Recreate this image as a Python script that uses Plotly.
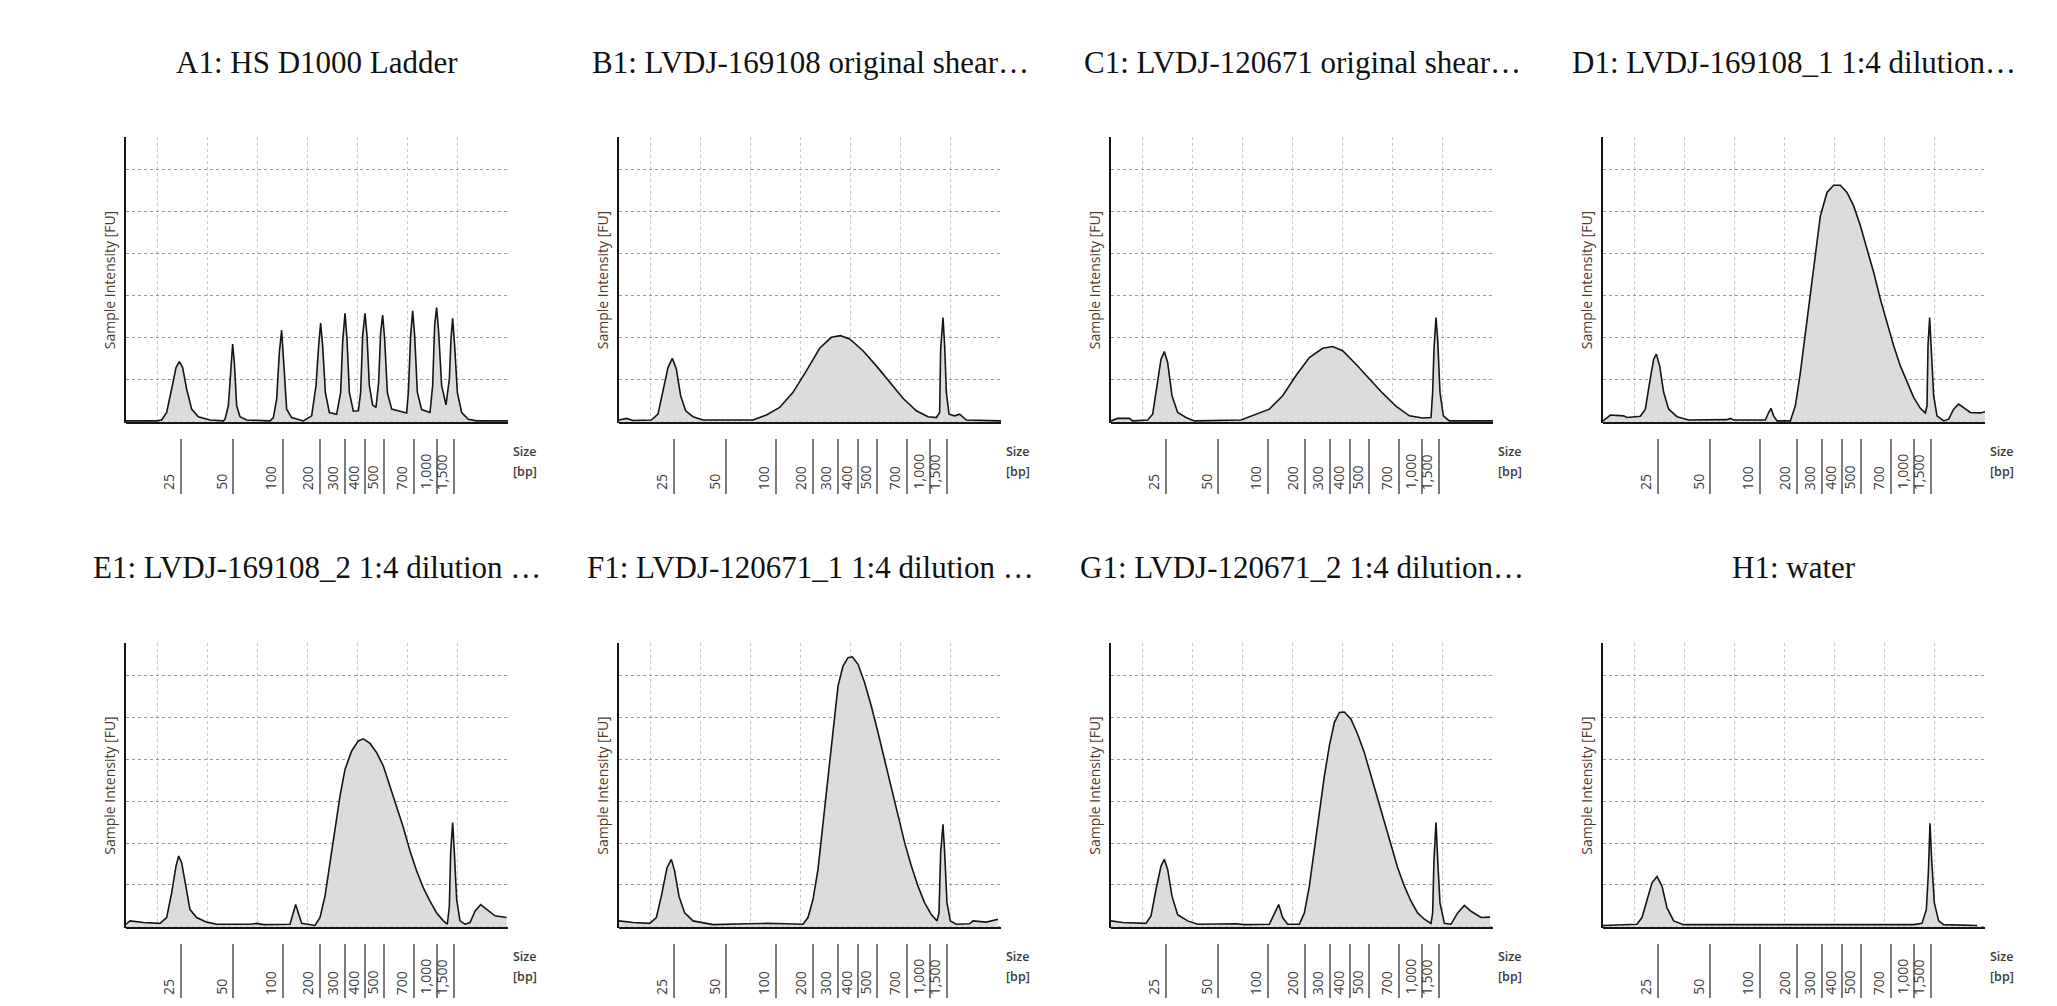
import plotly.graph_objects as go

# ---------------- data ----------------
titles = [
    "A1: HS D1000 Ladder",
    "B1: LVDJ-169108 original shear…",
    "C1: LVDJ-120671 original shear…",
    "D1: LVDJ-169108_1 1:4 dilution…",
    "E1: LVDJ-169108_2 1:4 dilution …",
    "F1: LVDJ-120671_1 1:4 dilution …",
    "G1: LVDJ-120671_2 1:4 dilution…",
    "H1: water",
]

# ladder marker positions (migration axis units) and their size labels
ladder_pos = [1.09, 2.146, 3.136, 3.877, 4.377, 4.787, 5.16, 5.756, 6.22, 6.553]
ladder_txt = ["25", "50", "100", "200", "300", "400", "500", "700", "1,000", "1,500"]

# (migration position, intensity in grid units) per sample
a1 = [(0.0, 0.02), (0.613, 0.02), (0.713, 0.04), (0.813, 0.22), (0.913, 0.78), (1.0, 1.29), (1.067, 1.43),
      (1.133, 1.29), (1.213, 0.78), (1.313, 0.30), (1.447, 0.12), (1.68, 0.04), (1.947, 0.02), (1.98, 0.06),
      (2.047, 0.38), (2.093, 1.33), (2.133, 1.85), (2.167, 1.41), (2.213, 0.38), (2.28, 0.12), (2.413, 0.04),
      (2.88, 0.02), (2.947, 0.1), (3.013, 0.54), (3.067, 1.65), (3.113, 2.18), (3.153, 1.49), (3.213, 0.3),
      (3.313, 0.1), (3.547, 0.02), (3.713, 0.14), (3.8, 0.86), (3.853, 1.81), (3.893, 2.35), (3.933, 1.81),
      (3.987, 0.7), (4.067, 0.22), (4.213, 0.18), (4.293, 0.7), (4.333, 1.89), (4.38, 2.58), (4.42, 1.97),
      (4.467, 0.7), (4.547, 0.25), (4.647, 0.26), (4.693, 0.7), (4.733, 2.05), (4.78, 2.58), (4.82, 2.05),
      (4.867, 0.86), (4.933, 0.4), (5.0, 0.34), (5.053, 0.94), (5.093, 2.13), (5.133, 2.54), (5.173, 1.97),
      (5.227, 0.7), (5.313, 0.3), (5.48, 0.25), (5.613, 0.21), (5.647, 0.7), (5.693, 2.05), (5.733, 2.64),
      (5.773, 2.05), (5.827, 0.7), (5.913, 0.29), (6.08, 0.22), (6.133, 0.86), (6.173, 2.29), (6.213, 2.72),
      (6.253, 2.13), (6.313, 0.86), (6.4, 0.4), (6.467, 1.02), (6.5, 1.97), (6.533, 2.46), (6.573, 1.81),
      (6.627, 0.7), (6.713, 0.22), (6.847, 0.06), (7.013, 0.02), (7.64, 0.02)]
b1 = [(0, 0.04), (0.147, 0.08), (0.28, 0.03), (0.647, 0.04), (0.78, 0.18), (0.88, 0.7), (0.98, 1.29),
      (1.067, 1.51), (1.147, 1.25), (1.233, 0.62), (1.333, 0.26), (1.48, 0.12), (1.68, 0.04), (2.68, 0.04),
      (2.947, 0.16), (3.213, 0.34), (3.48, 0.7), (3.747, 1.21), (4.013, 1.75), (4.247, 2.01), (4.427, 2.05),
      (4.613, 1.97), (4.88, 1.69), (5.147, 1.33), (5.413, 0.94), (5.68, 0.56), (5.947, 0.26), (6.18, 0.12),
      (6.347, 0.1), (6.413, 0.22), (6.433, 1.73), (6.48, 2.48), (6.513, 1.81), (6.547, 0.7), (6.6, 0.18),
      (6.713, 0.14), (6.813, 0.18), (6.947, 0.04), (7.64, 0.02)]
c1 = [(0, 0.02), (0.133, 0.08), (0.367, 0.08), (0.433, 0.02), (0.733, 0.04), (0.833, 0.18), (0.92, 0.86),
      (1.0, 1.49), (1.067, 1.67), (1.133, 1.41), (1.22, 0.62), (1.333, 0.22), (1.5, 0.1), (1.667, 0.02),
      (2.6, 0.04), (2.9, 0.18), (3.167, 0.3), (3.433, 0.62), (3.7, 1.1), (3.967, 1.53), (4.233, 1.75),
      (4.433, 1.79), (4.633, 1.69), (4.9, 1.37), (5.167, 1.02), (5.433, 0.68), (5.7, 0.37), (5.967, 0.14),
      (6.233, 0.09), (6.4, 0.1), (6.433, 0.7), (6.46, 1.73), (6.5, 2.48), (6.533, 1.97), (6.58, 0.7),
      (6.647, 0.14), (6.767, 0.02), (7.64, 0.02)]
d1 = [(0, 0.02), (0.147, 0.16), (0.413, 0.14), (0.48, 0.1), (0.747, 0.13), (0.847, 0.3), (0.933, 0.94),
      (1.013, 1.49), (1.067, 1.61), (1.133, 1.33), (1.213, 0.7), (1.313, 0.3), (1.48, 0.12), (1.713, 0.04),
      (2.48, 0.05), (2.547, 0.08), (2.613, 0.04), (3.247, 0.04), (3.313, 0.22), (3.36, 0.32), (3.413, 0.14),
      (3.48, 0.02), (3.747, 0.02), (3.847, 0.38), (3.947, 1.17), (4.047, 2.13), (4.147, 3.08), (4.247, 4.03),
      (4.347, 4.9), (4.48, 5.46), (4.613, 5.63), (4.747, 5.63), (4.88, 5.46), (5.013, 5.14), (5.147, 4.67),
      (5.28, 4.11), (5.413, 3.56), (5.547, 2.92), (5.68, 2.37), (5.813, 1.81), (5.947, 1.33), (6.08, 0.94),
      (6.213, 0.58), (6.347, 0.32), (6.447, 0.21), (6.48, 0.38), (6.5, 1.81), (6.533, 2.48), (6.567, 1.81),
      (6.613, 0.62), (6.68, 0.14), (6.813, 0.02), (6.913, 0.06), (7.013, 0.3), (7.113, 0.42), (7.213, 0.34),
      (7.347, 0.22), (7.547, 0.21), (7.64, 0.24)]
e1 = [(0, 0.06), (0.08, 0.14), (0.347, 0.1), (0.68, 0.08), (0.813, 0.22), (0.913, 0.81), (1.0, 1.45),
      (1.053, 1.69), (1.113, 1.53), (1.2, 0.89), (1.28, 0.41), (1.413, 0.22), (1.613, 0.11), (1.813, 0.06),
      (2.48, 0.06), (2.613, 0.08), (2.747, 0.05), (3.28, 0.06), (3.333, 0.26), (3.393, 0.53), (3.447, 0.33),
      (3.513, 0.08), (3.78, 0.03), (3.88, 0.22), (3.98, 0.73), (4.08, 1.53), (4.18, 2.41), (4.28, 3.12),
      (4.38, 3.76), (4.513, 4.2), (4.647, 4.44), (4.747, 4.49), (4.88, 4.38), (5.013, 4.16), (5.147, 3.84),
      (5.28, 3.36), (5.413, 2.88), (5.547, 2.37), (5.68, 1.81), (5.813, 1.33), (5.947, 0.93), (6.08, 0.61),
      (6.213, 0.33), (6.347, 0.14), (6.427, 0.06), (6.467, 0.49), (6.493, 1.77), (6.533, 2.49), (6.567, 1.77),
      (6.613, 0.65), (6.68, 0.14), (6.78, 0.06), (6.88, 0.1), (6.98, 0.37), (7.093, 0.53), (7.213, 0.41),
      (7.38, 0.26), (7.613, 0.22)]
f1 = [(0, 0.14), (0.147, 0.11), (0.28, 0.1), (0.613, 0.08), (0.747, 0.22), (0.847, 0.73), (0.96, 1.41),
      (1.047, 1.61), (1.113, 1.33), (1.2, 0.73), (1.313, 0.33), (1.48, 0.14), (1.747, 0.08), (1.88, 0.05),
      (2.547, 0.07), (2.947, 0.08), (3.347, 0.07), (3.68, 0.06), (3.78, 0.22), (3.88, 0.65), (3.98, 1.37),
      (4.08, 2.49), (4.18, 3.6), (4.28, 4.72), (4.38, 5.75), (4.48, 6.23), (4.58, 6.43), (4.667, 6.45),
      (4.78, 6.27), (4.913, 5.83), (5.047, 5.27), (5.18, 4.64), (5.313, 4.0), (5.447, 3.36), (5.58, 2.65),
      (5.713, 2.01), (5.847, 1.45), (5.98, 0.97), (6.113, 0.57), (6.247, 0.29), (6.36, 0.14), (6.4, 0.33),
      (6.433, 1.77), (6.48, 2.45), (6.513, 1.77), (6.56, 0.57), (6.627, 0.14), (6.747, 0.06), (7.013, 0.07),
      (7.08, 0.14), (7.347, 0.11), (7.58, 0.18)]
g1 = [(0, 0.14), (0.233, 0.1), (0.7, 0.08), (0.8, 0.26), (0.9, 0.89), (1.0, 1.45), (1.067, 1.61),
      (1.133, 1.37), (1.22, 0.73), (1.333, 0.29), (1.533, 0.14), (1.733, 0.06), (2.5, 0.07), (2.667, 0.05),
      (3.167, 0.06), (3.247, 0.26), (3.353, 0.53), (3.433, 0.22), (3.533, 0.06), (3.767, 0.06), (3.867, 0.33),
      (3.967, 0.97), (4.067, 1.85), (4.167, 2.73), (4.267, 3.6), (4.367, 4.32), (4.467, 4.88), (4.567, 5.12),
      (4.667, 5.13), (4.8, 4.96), (4.933, 4.6), (5.067, 4.16), (5.2, 3.6), (5.333, 3.04), (5.467, 2.49),
      (5.6, 1.93), (5.733, 1.41), (5.867, 0.97), (6.0, 0.61), (6.133, 0.33), (6.267, 0.18), (6.4, 0.08),
      (6.433, 0.33), (6.46, 1.61), (6.5, 2.49), (6.533, 1.61), (6.58, 0.57), (6.667, 0.08), (6.8, 0.06),
      (6.933, 0.33), (7.067, 0.51), (7.2, 0.37), (7.4, 0.22), (7.58, 0.23)]
h1 = [(0, 0.03), (0.68, 0.06), (0.78, 0.22), (0.88, 0.65), (0.98, 1.05), (1.08, 1.2), (1.18, 0.97),
      (1.28, 0.45), (1.413, 0.14), (1.613, 0.05), (6.213, 0.05), (6.38, 0.08), (6.467, 0.41), (6.507, 1.29),
      (6.54, 2.47), (6.573, 1.61), (6.627, 0.57), (6.713, 0.14), (6.813, 0.05), (7.48, 0.03)]

panels = [a1, b1, c1, d1, e1, f1, g1, h1]

# ---------------- layout constants (page pixels) ----------------
PAGE_W, PAGE_H = 2057, 1006
BODY = 8                      # default page margin around the plot div
W, H = PAGE_W - 2 * BODY, PAGE_H - 2 * BODY
col_left = [126, 619, 1111, 1603]
plot_w = 382
row_top = [137, 643]
row_bot = [423, 928]
tick_top = [438, 943]
tick_len = 55
title_y = [62, 567]
size_y = [(451, 471), (956, 976)]
X_RANGE = [0, 7.64]
Y_RANGE = [-0.03, 6.78]


def px(p):
    return (p - BODY) / W


def py(p):
    return 1 - (p - BODY) / H


fig = go.Figure()
layout = {}
annotations = []
shapes = []

for i, pts in enumerate(panels):
    r, c = divmod(i, 4)
    n = i + 1
    sfx = "" if n == 1 else str(n)
    xs = [p[0] for p in pts]
    ys = [p[1] for p in pts]
    fig.add_trace(go.Scatter(
        x=xs, y=ys, xaxis=f"x{sfx}", yaxis=f"y{sfx}", mode="lines",
        line=dict(color="#151515", width=1.6), fill="tozeroy", fillcolor="#dcdcdc",
        hoverinfo="skip", showlegend=False))

    layout[f"xaxis{sfx}"] = dict(
        domain=[px(col_left[c]), px(col_left[c] + plot_w)], range=X_RANGE,
        anchor="free", position=py(tick_top[r]), showline=False, zeroline=False,
        showgrid=False, tickmode="array", tickvals=ladder_pos, showticklabels=False,
        ticks="outside", ticklen=tick_len, tickwidth=1.5, tickcolor="#7a7a7a",
        minor=dict(tickmode="linear", tick0=0.62, dtick=1, showgrid=True,
                   gridcolor="#c6c6c6", griddash="dot", gridwidth=1, ticks=""),
        fixedrange=True)
    layout[f"yaxis{sfx}"] = dict(
        domain=[py(row_bot[r]), py(row_top[r])], range=Y_RANGE, anchor=f"x{sfx}",
        showline=True, linecolor="#151515", linewidth=2, zeroline=False,
        showgrid=True, gridcolor="#9a9a9a", griddash="dot", gridwidth=1,
        tickmode="linear", tick0=0, dtick=1, showticklabels=False, ticks="",
        title=dict(text="Sample Intensity [FU]", standoff=5,
                   font=dict(family="Open Sans", size=14, color="#4e3c2e")),
        fixedrange=True)

    # baseline of the electropherogram
    shapes.append(dict(type="line", xref=f"x{sfx} domain", yref=f"y{sfx} domain",
                       x0=0, x1=1, y0=0, y1=0, line=dict(color="#151515", width=2)))

    # panel title
    annotations.append(dict(text=titles[i], xref=f"x{sfx} domain", x=0.5, xanchor="center",
                            yref="paper", y=py(title_y[r]), yanchor="middle", showarrow=False,
                            font=dict(family="Liberation Serif", size=31, color="#111")))

    # ladder size labels (rotated, left of each marker line)
    for pos, txt in zip(ladder_pos, ladder_txt):
        annotations.append(dict(text=txt, x=pos, xref=f"x{sfx}", xanchor="right", xshift=-1,
                                y=py(tick_top[r] + tick_len - 1), yref="paper", yanchor="bottom",
                                textangle=-90, showarrow=False,
                                font=dict(family="Open Sans", size=14, color="#3a3a3a")))

    # "Size [bp]" axis caption
    for txt, yy in zip(["Size", "[bp]"], size_y[r]):
        annotations.append(dict(text=txt, xref=f"x{sfx} domain", x=1, xanchor="left", xshift=3,
                                yref="paper", y=py(yy), yanchor="middle", showarrow=False,
                                font=dict(family="Open Sans", size=12.5, color="#3a3a3a", weight=600)))

fig.update_layout(
    width=W, height=H, margin=dict(l=0, r=0, t=0, b=0),
    paper_bgcolor="white", plot_bgcolor="white",
    annotations=annotations, shapes=shapes, **layout)

fig.write_html("out.html")
